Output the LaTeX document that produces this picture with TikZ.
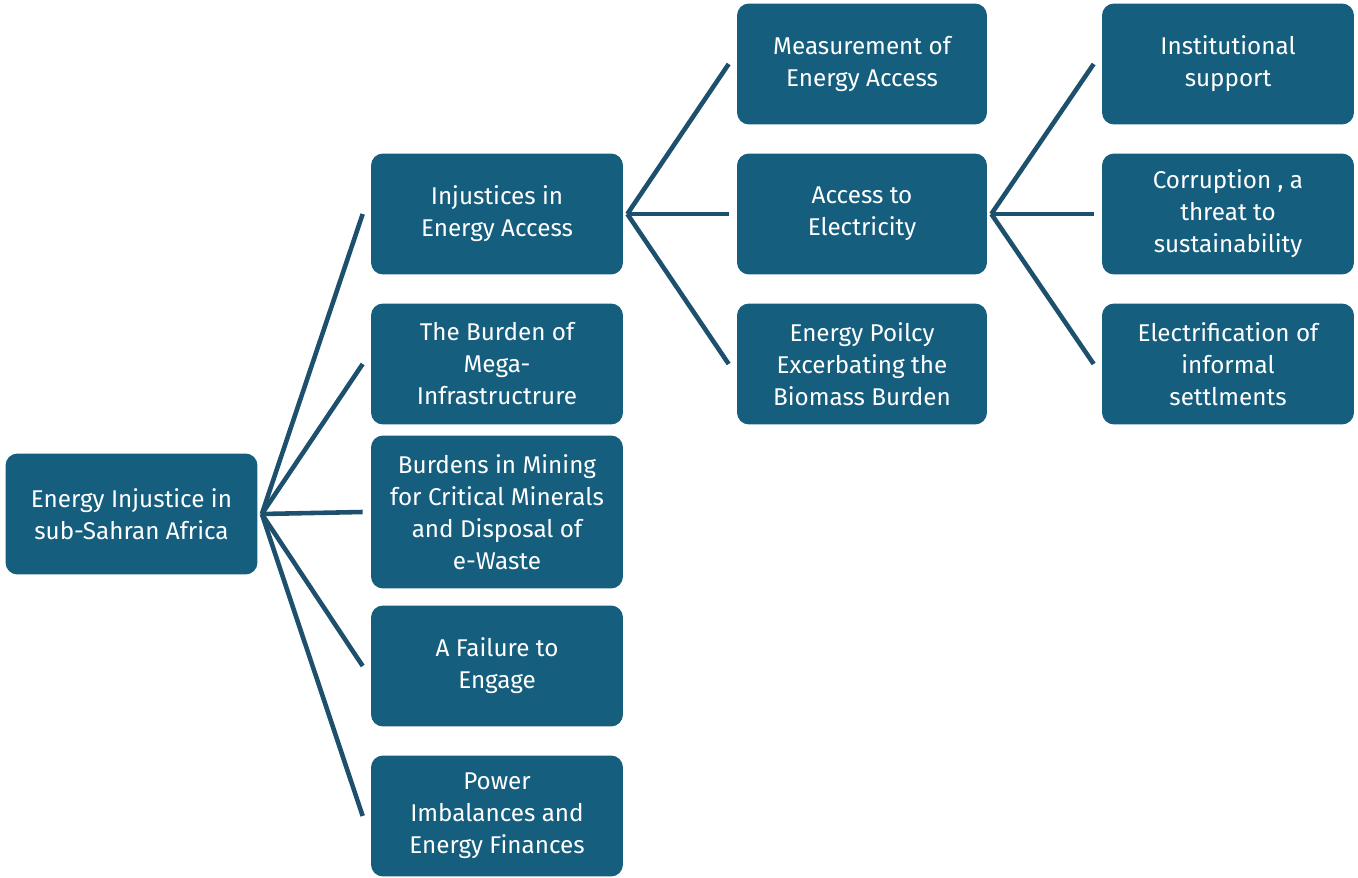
\documentclass[tikz,border=0pt]{standalone}
\usepackage{fontspec}
\setmainfont{Fira Sans}
\usepackage{xcolor}
\definecolor{boxblue}{RGB}{22,94,126}
\definecolor{linkblue}{RGB}{28,80,108}

\begin{document}
\begin{tikzpicture}[x=0.02cm, y=-0.02cm]
 \tikzstyle{every node}=[rounded corners=0.24cm, fill=boxblue, text=white,
                       align=center, inner sep=0pt, minimum width=5.04cm,
                       minimum height=2.42cm,
                       font=\fontsize{13.8}{18.2}\selectfont]
 \tikzstyle{link}=[linkblue, line width=2.6pt]

\useasboundingbox (0,0) rectangle (1358,878);

% root and first level
\node (root) at (131.5,514) {Energy Injustice in\\sub-Sahran Africa};
\node (access) at (497,214) {Injustices in\\Energy Access};
\node (mega) at (497,364) {The Burden of\\Mega-\\Infrastructrure};
\node[minimum height=3.06cm] (mining) at (497,512) {Burdens in Mining\\for Critical Minerals\\and Disposal of\\e-Waste};
\node (engage) at (497,666) {A Failure to\\Engage};
\node (power) at (497,816) {Power\\Imbalances and\\Energy Finances};

% second level
\node[minimum width=5cm] (measure) at (862,64) {Measurement of\\Energy Access};
\node[minimum width=5cm] (elec) at (862,214) {Access to\\Electricity};
\node[minimum width=5cm] (policy) at (862,364) {Energy Poilcy\\Excerbating the\\Biomass Burden};

% third level
\node (inst) at (1228,64) {Institutional\\support};
\node (corrupt) at (1228,214) {Corruption , a\\threat to\\sustainability};
\node (settle) at (1228,364) {Electrification of\\informal\\settlments};

 \path[link]
    ([xshift=0.08cm]root.east) edge ([xshift=-0.16cm]access.west)
    ([xshift=0.08cm]root.east) edge ([xshift=-0.16cm]mega.west)
    ([xshift=0.08cm]root.east) edge ([xshift=-0.16cm]mining.west)
    ([xshift=0.08cm]root.east) edge ([xshift=-0.16cm]engage.west)
    ([xshift=0.08cm]root.east) edge ([xshift=-0.16cm]power.west);

 \path[link]
    ([xshift=0.08cm]access.east) edge ([xshift=-0.16cm]measure.west)
    ([xshift=0.08cm]access.east) edge ([xshift=-0.16cm]elec.west)
    ([xshift=0.08cm]access.east) edge ([xshift=-0.16cm]policy.west);

 \path[link]
    ([xshift=0.08cm]elec.east) edge ([xshift=-0.16cm]inst.west)
    ([xshift=0.08cm]elec.east) edge ([xshift=-0.16cm]corrupt.west)
    ([xshift=0.08cm]elec.east) edge ([xshift=-0.16cm]settle.west);

\end{tikzpicture}
\end{document}
